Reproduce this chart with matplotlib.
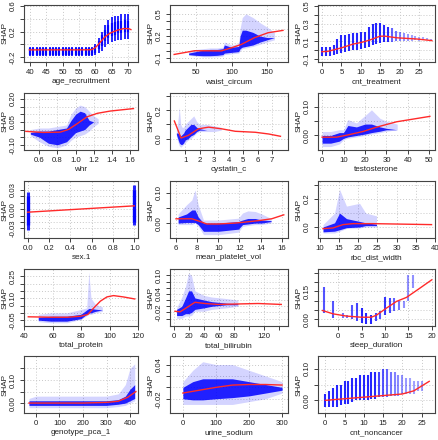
import matplotlib
matplotlib.use('Agg')
import matplotlib.pyplot as plt

plt.rcParams['font.family'] = ['Liberation Sans', 'DejaVu Sans']

# ---------------- data ----------------
# 1 age_recruitment (discrete columns)
age_x = list(range(40, 71))
age_lo = [-0.19]*20 + [-0.17, -0.14, -0.10, -0.05, 0.00, 0.03, 0.05, 0.06, 0.07, 0.08, 0.08]
age_hi = [-0.04]*20 + [0.00, 0.10, 0.20, 0.30, 0.38, 0.42, 0.44, 0.45, 0.47, 0.48, 0.47]
age_clo = [-0.16]*20 + [-0.13, -0.08, -0.02, 0.05, 0.10, 0.13, 0.15, 0.17, 0.18, 0.20, 0.20]
age_chi = [-0.06]*20 + [-0.03, 0.05, 0.15, 0.22, 0.30, 0.33, 0.35, 0.36, 0.37, 0.38, 0.36]
age_fx = [39.8, 45, 50, 55, 58.8, 59.8, 60.8, 61.8, 62.8, 63.8, 64.75, 66.7, 68.7, 70.2, 70.9]
age_fy = [-0.087, -0.087, -0.087, -0.087, -0.085, -0.06, -0.01, 0.05, 0.108, 0.15, 0.18, 0.22, 0.246, 0.245, 0.23]

# 2 waist_circum
wc_x = [40, 50, 60, 70, 80, 88, 90, 100, 110, 112, 115, 120, 130, 140, 150, 160]
wc_lo = [-0.06, -0.07, -0.08, -0.08, -0.08, -0.07, -0.05, -0.04, -0.03, 0.00, 0.03, 0.04, 0.06, 0.09, 0.12, 0.15]
wc_hi = [0.00, 0.02, 0.03, 0.04, 0.04, 0.05, 0.12, 0.08, 0.10, 0.30, 0.45, 0.50, 0.45, 0.38, 0.32, 0.25]
wc_clo = [-0.05, -0.06, -0.065, -0.065, -0.06, -0.05, -0.03, -0.02, -0.01, 0.03, 0.05, 0.06, 0.08, 0.12, 0.15, 0.18]
wc_chi = [-0.03, -0.01, 0.01, 0.02, 0.02, 0.03, 0.08, 0.05, 0.06, 0.20, 0.28, 0.28, 0.25, 0.20, 0.18, 0.18]
wc_fx = [19.8, 48.6, 85.8, 100, 113.7, 132, 151, 172]
wc_fy = [-0.048, 0.002, 0.0, 0.042, 0.087, 0.178, 0.245, 0.277]

# 3 cnt_treatment (discrete)
ct_x = list(range(0, 29))
ct_lo = [-0.07, -0.07, -0.07, -0.06, -0.04, -0.03, -0.02, -0.01, 0.0, 0.0, 0.01, 0.02, 0.04, 0.06, 0.07, 0.08,
         0.09, 0.09, 0.09, 0.10, 0.10, 0.10, 0.10, 0.10, 0.11, 0.10, 0.11, 0.11, 0.11]
ct_hi = [0.03, 0.03, 0.04, 0.06, 0.12, 0.17, 0.17, 0.18, 0.19, 0.19, 0.20, 0.21, 0.26, 0.29, 0.31, 0.31,
         0.28, 0.26, 0.25, 0.22, 0.20, 0.19, 0.18, 0.17, 0.16, 0.15, 0.15, 0.14, 0.13]
ct_w = [1]*18 + [0.6, 0.5, 0.4, 0.3, 0.25, 0.2, 0.2, 0.15, 0.15, 0.15, 0.15]
ct_fx = [0, 1.5, 5, 8, 10.1, 12.3, 14.9, 16.2, 19.2, 24.4, 28.2]
ct_fy = [-0.018, -0.015, 0.025, 0.068, 0.086, 0.114, 0.157, 0.157, 0.139, 0.125, 0.107]

# 4 whr
whr_x = [0.5, 0.6, 0.7, 0.8, 0.9, 0.95, 1.0, 1.05, 1.1, 1.15, 1.2, 1.25]
whr_lo = [-0.04, -0.08, -0.11, -0.12, -0.10, -0.07, -0.05, -0.04, -0.03, -0.01, 0.02, 0.04]
whr_hi = [0.00, 0.01, 0.01, 0.02, 0.03, 0.10, 0.14, 0.16, 0.15, 0.12, 0.09, 0.07]
whr_clo = [-0.03, -0.05, -0.09, -0.10, -0.08, -0.05, -0.02, -0.01, 0.00, 0.03, 0.05, 0.05]
whr_chi = [-0.02, -0.01, -0.01, 0.00, 0.01, 0.06, 0.10, 0.12, 0.11, 0.06, 0.05, 0.05]
whr_fx = [0.45, 0.64, 0.83, 0.92, 1.015, 1.126, 1.24, 1.385, 1.64]
whr_fy = [-0.012, -0.019, -0.017, 0.0, 0.037, 0.083, 0.106, 0.121, 0.137]

# 5 cystatin_c
cy_x = [0.4, 0.5, 0.6, 0.7, 0.8, 0.9, 1.0, 1.2, 1.4, 1.6, 1.8, 2.0, 2.5, 3.0, 3.5]
cy_lo = [0.02, -0.02, -0.05, -0.06, -0.05, -0.04, -0.03, -0.01, 0.00, 0.02, 0.04, 0.05, 0.05, 0.05, 0.06]
cy_hi = [0.06, 0.12, 0.22, 0.10, 0.08, 0.08, 0.10, 0.12, 0.14, 0.16, 0.12, 0.10, 0.10, 0.09, 0.08]
cy_clo = [0.03, 0.00, -0.03, -0.04, -0.04, -0.03, -0.01, 0.00, 0.02, 0.03, 0.05, 0.06, 0.06, 0.06, 0.06]
cy_chi = [0.04, 0.04, 0.03, 0.02, 0.03, 0.04, 0.06, 0.08, 0.10, 0.10, 0.08, 0.07, 0.06, 0.06, 0.06]
cy_fx = [0.26, 0.54, 0.72, 1.23, 1.92, 2.62, 3.54, 4.46, 5.85, 6.77, 7.58]
cy_fy = [0.124, 0.052, 0.005, 0.024, 0.069, 0.081, 0.069, 0.052, 0.045, 0.033, 0.017]

# 6 testosterone
te_x = [0, 4, 8, 10, 12, 16, 20, 23, 27, 30, 35]
te_lo = [-0.039, -0.039, -0.03, -0.015, -0.01, -0.005, 0.0, 0.005, 0.01, 0.015, 0.02]
te_hi = [0.014, 0.014, 0.02, 0.02, 0.056, 0.044, 0.07, 0.09, 0.06, 0.05, 0.04]
te_clo = [-0.027, -0.027, -0.02, -0.01, -0.005, 0.0, 0.005, 0.01, 0.015, 0.02, 0.02]
te_chi = [0.0, 0.0, 0.01, 0.01, 0.035, 0.03, 0.04, 0.04, 0.03, 0.025, 0.02]
te_fx = [0, 6.7, 12.1, 19.1, 25.3, 34.7, 50.2]
te_fy = [-0.006, -0.006, 0.002, 0.014, 0.029, 0.048, 0.067]

# 7 sex.1 (two columns)
sex_x = [0, 1]
sex_lo = [-0.033, -0.025]
sex_hi = [0.027, 0.038]
sex_clo = [-0.025, -0.02]
sex_chi = [0.02, 0.03]
sex_fx = [0, 1]
sex_fy = [-0.0047, 0.0052]

# 8 mean_platelet_vol
mp_x = [6.2, 7.0, 7.5, 7.8, 8.1, 8.6, 10, 11.9, 12.3, 12.8, 13.5, 14.1, 15.0]
mp_lo = [-0.005, -0.005, -0.005, 0.0, -0.01, -0.038, -0.038, -0.03, -0.011, -0.008, -0.005, -0.005, 0.0]
mp_hi = [0.03, 0.06, 0.076, 0.109, 0.06, 0.01, 0.01, 0.016, 0.033, 0.04, 0.038, 0.03, 0.015]
mp_clo = [0.0, 0.002, 0.002, 0.002, -0.005, -0.027, -0.027, -0.02, -0.005, -0.003, 0.0, 0.0, 0.005]
mp_chi = [0.02, 0.03, 0.043, 0.043, 0.02, 0.0, 0.0, 0.005, 0.01, 0.015, 0.015, 0.01, 0.008]
mp_fx = [6.0, 7.5, 8.3, 8.9, 10.0, 11.6, 12.5, 13.8, 15.05, 16.2]
mp_fy = [0.014, 0.014, 0.005, -0.003, -0.003, 0.0, 0.003, 0.008, 0.014, 0.027]

# 9 rbc_dist_width
rd_x = [10.9, 13.9, 15.2, 17.0, 20.4, 22.0, 24.8]
rd_lo = [-0.043, -0.043, -0.031, -0.01, -0.007, 0.0, 0.0]
rd_hi = [0.017, 0.10, 0.27, 0.15, 0.17, 0.10, 0.08]
rd_clo = [-0.035, -0.03, -0.02, -0.005, 0.0, 0.01, 0.01]
rd_chi = [0.0, 0.03, 0.1, 0.06, 0.04, 0.03, 0.02]
rd_fx = [10.9, 13.5, 16.1, 18.7, 23.9, 39.1]
rd_fy = [-0.012, -0.007, 0.017, 0.024, 0.024, 0.017]

# 10 total_protein
tp_x = [50, 59, 70, 80, 84, 85.5, 87, 90, 95]
tp_lo = [-0.06, -0.068, -0.068, -0.045, -0.02, -0.011, -0.011, 0.0, 0.01]
tp_hi = [-0.01, 0.0, 0.0, 0.023, 0.034, 0.28, 0.10, 0.06, 0.04]
tp_clo = [-0.05, -0.057, -0.057, -0.04, -0.01, 0.0, 0.0, 0.01, 0.02]
tp_chi = [-0.03, -0.023, -0.023, -0.01, 0.02, 0.03, 0.03, 0.025, 0.02]
tp_fx = [43, 59, 70.6, 79.8, 84.8, 89, 93.6, 98.2, 102.8, 109.7, 117.7]
tp_fy = [-0.027, -0.03, -0.03, -0.023, -0.011, 0.034, 0.08, 0.109, 0.118, 0.109, 0.095]

# 11 total_bilirubin
tb_x = [3, 10, 15, 19, 23, 27.5, 40, 50, 70, 85]
tb_lo = [-0.039, -0.039, -0.032, -0.032, -0.03, -0.016, -0.016, -0.01, -0.005, 0.0]
tb_hi = [-0.005, 0.03, 0.065, 0.108, 0.1, 0.05, 0.035, 0.03, 0.025, 0.02]
tb_clo = [-0.03, -0.03, -0.024, -0.024, -0.02, -0.01, -0.005, 0.0, 0.005, 0.005]
tb_chi = [-0.01, 0.0, 0.027, 0.05, 0.05, 0.027, 0.02, 0.015, 0.01, 0.008]
tb_fx = [0.9, 7.6, 14.2, 27.6, 40.9, 58.7, 94, 112, 143]
tb_fy = [-0.016, -0.018, -0.008, 0.013, 0.009, 0.006, 0.008, 0.009, 0.006]

# 12 sleep_duration (discrete)
sl_x = [-3, -1, 1, 2, 3, 4, 5, 6, 7, 8, 9, 10, 11, 12, 13, 14, 15, 16]
sl_lo = [0.035, 0.009, 0.009, 0.009, 0.0, -0.01, -0.018, -0.026, -0.026, -0.009, 0.0, 0.026, 0.035, 0.044, 0.053, 0.06, 0.10, 0.17]
sl_hi = [0.176, 0.097, 0.035, 0.026, 0.08, 0.088, 0.062, 0.035, 0.026, 0.035, 0.044, 0.12, 0.115, 0.115, 0.097, 0.097, 0.24, 0.24]
sl_w = [0.7, 0.7, 0.5, 0.5, 0.7, 0.8, 1, 1, 1, 0.8, 0.7, 0.9, 0.8, 0.6, 0.5, 0.3, 0.3, 0.3]
sl_fx = [-3.36, -1.07, 1.8, 5.0, 7.1, 8.2, 10.4, 12.5, 14.6, 17.5, 20.0]
sl_fy = [0.048, 0.03, 0.018, 0.012, 0.012, 0.023, 0.062, 0.097, 0.118, 0.168, 0.212]

# 13 genotype_pca_1
gp_x = [-30, 0, 100, 200, 300, 350, 380, 400, 420]
gp_lo = [-0.02, -0.02, -0.02, -0.02, -0.02, -0.015, -0.01, 0.0, 0.01]
gp_hi = [0.02, 0.03, 0.03, 0.03, 0.03, 0.04, 0.08, 0.15, 0.17]
gp_clo = [-0.01, -0.01, -0.01, -0.01, -0.01, -0.005, 0.0, 0.01, 0.02]
gp_chi = [0.01, 0.01, 0.01, 0.01, 0.01, 0.015, 0.03, 0.06, 0.08]
gp_fx = [-30, 100, 200, 300, 350, 390, 425]
gp_fy = [0.0, 0.0, 0.0, 0.003, 0.008, 0.025, 0.05]

# 14 urine_sodium
us_x = [0, 30, 60, 100, 150, 200, 250, 300]
us_lo = [-0.03, -0.03, -0.03, -0.03, -0.03, -0.025, -0.02, -0.01]
us_hi = [0.01, 0.03, 0.045, 0.04, 0.04, 0.03, 0.02, 0.01]
us_clo = [-0.02, -0.022, -0.022, -0.02, -0.018, -0.015, -0.01, -0.005]
us_chi = [0.0, 0.01, 0.015, 0.015, 0.015, 0.01, 0.005, 0.0]
us_fx = [0, 50, 100, 150, 200, 250, 300]
us_fy = [-0.01, -0.005, 0.0, 0.004, 0.005, 0.005, 0.004]

# 15 cnt_noncancer (discrete)
nc_x = list(range(0, 26))
nc_lo = [-0.02, -0.02, -0.02, -0.02, -0.015, -0.01, -0.01, -0.005, 0.0, 0.0, 0.0, 0.0, 0.005, 0.005, 0.01,
         0.01, 0.01, 0.015, 0.015, 0.015, 0.02, 0.02, 0.02, 0.02, 0.03, 0.03]
nc_hi = [0.02, 0.03, 0.04, 0.05, 0.05, 0.06, 0.06, 0.07, 0.07, 0.08, 0.08, 0.08, 0.09, 0.09, 0.09,
         0.1, 0.1, 0.09, 0.09, 0.08, 0.08, 0.07, 0.07, 0.06, 0.06, 0.06]
nc_w = [1]*14 + [0.8, 0.7, 0.6, 0.5, 0.4, 0.35, 0.3, 0.25, 0.2, 0.2, 0.2, 0.2]
nc_fx = [0, 5, 10, 15, 20, 23, 27]
nc_fy = [0.0, 0.005, 0.01, 0.015, 0.02, 0.03, 0.06]

# ---------------- layout helpers ----------------
W, H = 439, 440
fig = plt.figure(figsize=(W/100, H/100), dpi=100)
col_left = [24, 170, 318]
col_w = [114, 118, 117]
row_top = [5, 93, 181, 269, 356]
ph = 57
FS = 5.6

BLUE = '#0000ff'
RED = '#ff2a2a'


def make_ax(r, c):
    ax = fig.add_axes([col_left[c]/W, 1-(row_top[r]+ph)/H, col_w[c]/W, ph/H])
    ax._pxw = col_w[c]
    return ax


def style(ax, xlim, ylim, xt, xtl, yt, ytl, xlabel):
    ax.set_xlim(xlim)
    ax.set_ylim(ylim)
    for t in xt:
        ax.axvline(t, color='#c8c8c8', ls=(0, (1, 2)), lw=0.7, zorder=0)
    for t in yt:
        ax.axhline(t, color='#c8c8c8', ls=(0, (1, 2)), lw=0.7, zorder=0)
    ax.set_xticks(xt)
    ax.set_xticklabels(xtl)
    ax.set_yticks(yt)
    ax.set_yticklabels(ytl, rotation=90, va='center', ha='right')
    ax.tick_params(direction='out', length=3, width=0.6, labelsize=FS, pad=2, colors='#222222')
    ax.set_xlabel(xlabel, fontsize=FS + 0.3, labelpad=1.5, color='#222222')
    ax.set_ylabel('SHAP', fontsize=FS + 0.3, color='#222222')
    ax.yaxis.set_label_coords(-15.5/ax._pxw, 0.5)
    for s in ax.spines.values():
        s.set_linewidth(0.8)
        s.set_color('#444444')


def cloud(ax, x, lo, hi, clo, chi):
    ax.fill_between(x, lo, hi, color=BLUE, alpha=0.17, lw=0, zorder=1)
    ax.fill_between(x, clo, chi, color=BLUE, alpha=0.85, lw=0, zorder=2)


def columns(ax, x, lo, hi, w=None, lw=1.6):
    if w is None:
        w = [1]*len(x)
    cols = [(0, 0, 1, 0.25 + 0.6*wi) for wi in w]
    ax.vlines(x, lo, hi, colors=cols, lw=lw, zorder=2)


def fit(ax, x, y):
    ax.plot(x, y, color=RED, lw=1.0, zorder=5)


# 1 age
ax = make_ax(0, 0)
columns(ax, age_x, age_lo, age_hi, lw=1.4)
columns(ax, age_x, age_clo, age_chi, lw=1.6)
fit(ax, age_fx, age_fy)
yt = [-0.2, 0.0, 0.2, 0.4, 0.6]
style(ax, (38.16, 73.07), (-0.277, 0.615), [40, 45, 50, 55, 60, 65, 70],
      ['40', '45', '50', '55', '60', '65', '70'], yt, ['-0.2', '', '0.2', '', '0.6'], 'age_recruitment')

# 2 waist
ax = make_ax(0, 1)
cloud(ax, wc_x, wc_lo, wc_hi, wc_clo, wc_chi)
fit(ax, wc_fx, wc_fy)
yt = [-0.1, 0.0, 0.1, 0.2, 0.3, 0.4, 0.5]
style(ax, (14, 179), (-0.15, 0.62), [50, 100, 150], ['50', '100', '150'],
      yt, ['-0.1', '', '', '0.2', '', '', '0.5'], 'waist_circum')

# 3 cnt_treatment
ax = make_ax(0, 2)
columns(ax, ct_x, ct_lo, ct_hi, ct_w, lw=1.5)
fit(ax, ct_fx, ct_fy)
yt = [-0.1, 0.0, 0.1, 0.2, 0.3, 0.4, 0.5]
style(ax, (-1.0, 29.0), (-0.135, 0.51), [0, 5, 10, 15, 20, 25], ['0', '5', '10', '15', '20', '25'],
      yt, ['-0.1', '', '0.1', '', '0.3', '', '0.5'], 'cnt_treatment')

# 4 whr
ax = make_ax(1, 0)
cloud(ax, whr_x, whr_lo, whr_hi, whr_clo, whr_chi)
fit(ax, whr_fx, whr_fy)
yt = [-0.10, -0.05, 0.0, 0.05, 0.10, 0.15, 0.20]
style(ax, (0.43, 1.69), (-0.134, 0.239), [0.6, 0.8, 1.0, 1.2, 1.4, 1.6],
      ['0.6', '0.8', '1.0', '1.2', '1.4', '1.6'], yt, ['-0.10', '', '', '0.05', '', '', '0.20'], 'whr')

# 5 cystatin_c
ax = make_ax(1, 1)
cloud(ax, cy_x, cy_lo, cy_hi, cy_clo, cy_chi)
fit(ax, cy_fx, cy_fy)
yt = [0.0, 0.1, 0.2, 0.3]
style(ax, (-0.04, 8.1), (-0.079, 0.32), [1, 2, 3, 4, 5, 6, 7], ['1', '2', '3', '4', '5', '6', '7'],
      yt, ['0.0', '', '0.2', ''], 'cystatin_c')

# 6 testosterone
ax = make_ax(1, 2)
cloud(ax, te_x, te_lo, te_hi, te_clo, te_chi)
fit(ax, te_fx, te_fy)
yt = [0.0, 0.05, 0.10]
style(ax, (-1.9, 52.6), (-0.051, 0.149), [0, 10, 20, 30, 40, 50], ['0', '10', '20', '30', '40', '50'],
      yt, ['0.00', '', '0.10'], 'testosterone')

# 7 sex.1
ax = make_ax(2, 0)
columns(ax, sex_x, sex_lo, sex_hi, lw=2.2)
columns(ax, sex_x, sex_clo, sex_chi, lw=2.4)
fit(ax, sex_fx, sex_fy)
yt = [-0.03, -0.02, -0.01, 0.0, 0.01, 0.02, 0.03]
style(ax, (-0.035, 1.035), (-0.045, 0.044), [0.0, 0.2, 0.4, 0.6, 0.8, 1.0],
      ['0.0', '0.2', '0.4', '0.6', '0.8', '1.0'], yt, ['-0.03', '', '', '0.00', '', '', '0.03'], 'sex.1')

# 8 mean_platelet_vol
ax = make_ax(2, 1)
cloud(ax, mp_x, mp_lo, mp_hi, mp_clo, mp_chi)
fit(ax, mp_fx, mp_fy)
yt = [0.0, 0.05, 0.10]
style(ax, (5.43, 16.6), (-0.049, 0.138), [6, 8, 10, 12, 14, 16], ['6', '8', '10', '12', '14', '16'],
      yt, ['0.00', '', '0.10'], 'mean_platelet_vol')

# 9 rbc_dist_width
ax = make_ax(2, 2)
cloud(ax, rd_x, rd_lo, rd_hi, rd_clo, rd_chi)
fit(ax, rd_fx, rd_fy)
yt = [0.0, 0.1, 0.2, 0.3]
style(ax, (9.6, 40.0), (-0.079, 0.33), [10, 15, 20, 25, 30, 35, 40],
      ['10', '15', '20', '25', '30', '35', '40'], yt, ['0.0', '', '0.2', ''], 'rbc_dist_width')

# 10 total_protein
ax = make_ax(3, 0)
cloud(ax, tp_x, tp_lo, tp_hi, tp_clo, tp_chi)
fit(ax, tp_fx, tp_fy)
yt = [-0.05, 0.0, 0.05, 0.10, 0.15, 0.20, 0.25]
style(ax, (41, 119.5), (-0.09, 0.30), [40, 60, 80, 100, 120], ['40', '60', '80', '100', '120'],
      yt, ['-0.05', '', '', '0.10', '', '', '0.25'], 'total_protein')

# 11 total_bilirubin
ax = make_ax(3, 1)
cloud(ax, tb_x, tb_lo, tb_hi, tb_clo, tb_chi)
fit(ax, tb_fx, tb_fy)
yt = [-0.04, -0.02, 0.0, 0.02, 0.04, 0.06, 0.08, 0.10]
style(ax, (-5.8, 152), (-0.064, 0.121), [0, 20, 40, 60, 80, 100, 120, 140],
      ['0', '20', '40', '60', '80', '', '120', ''], yt,
      ['', '-0.02', '', '', '0.04', '', '', '0.10'], 'total_bilirubin')

# 12 sleep_duration
ax = make_ax(3, 2)
columns(ax, sl_x, sl_lo, sl_hi, sl_w, lw=1.5)
fit(ax, sl_fx, sl_fy)
yt = [0.0, 0.05, 0.10, 0.15, 0.20, 0.25]
style(ax, (-4.3, 20.7), (-0.035, 0.27), [0, 5, 10, 15, 20], ['0', '5', '10', '15', '20'],
      yt, ['0.00', '', '', '0.15', '', ''], 'sleep_duration')

# 13 genotype_pca_1
ax = make_ax(4, 0)
cloud(ax, gp_x, gp_lo, gp_hi, gp_clo, gp_chi)
fit(ax, gp_fx, gp_fy)
yt = [0.0, 0.05, 0.10, 0.15]
style(ax, (-51, 434), (-0.043, 0.204), [0, 100, 200, 300, 400], ['0', '100', '200', '300', '400'],
      yt, ['0.00', '', '0.10', ''], 'genotype_pca_1')

# 14 urine_sodium
ax = make_ax(4, 1)
cloud(ax, us_x, us_lo, us_hi, us_clo, us_chi)
fit(ax, us_fx, us_fy)
yt = [-0.02, 0.0, 0.02, 0.04]
style(ax, (-39, 318), (-0.045, 0.055), [0, 100, 200, 300], ['0', '100', '200', '300'],
      yt, ['-0.02', '', '', '0.04'], 'urine_sodium')

# 15 cnt_noncancer
ax = make_ax(4, 2)
columns(ax, nc_x, nc_lo, nc_hi, nc_w, lw=1.5)
fit(ax, nc_fx, nc_fy)
yt = [0.0, 0.05, 0.10]
style(ax, (-1.9, 28.5), (-0.04, 0.14), [0, 5, 10, 15, 20, 25], ['0', '5', '10', '15', '20', '25'],
      yt, ['0.00', '', '0.10'], 'cnt_noncancer')

fig.savefig('out.png', dpi=100)
